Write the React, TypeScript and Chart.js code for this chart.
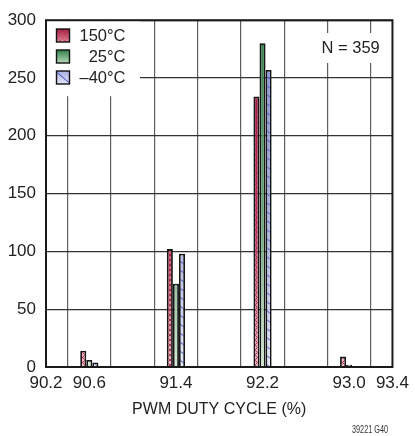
import React, { useEffect, useRef } from 'react';
import { Chart, registerables } from 'chart.js';

Chart.register(...registerables);

// ---------------- data ----------------
const bins = [90.6, 91.4, 92.2, 93.0];
const counts150 = [14, 102, 234, 9];
const counts25 = [6, 72, 280, 2];
const countsM40 = [4, 98, 257, 0];
const seriesNames = ['150°C', '25°C', '–40°C'];
const xGridValues = [90.2, 90.6, 91.0, 91.4, 91.8, 92.2, 92.6, 93.0, 93.4];
const xTickLabels = ['90.2', '90.6', '', '91.4', '', '92.2', '', '93.0', '93.4'];
const yMin = 0;
const yMax = 300;
const yStep = 50;
const xTitle = 'PWM DUTY CYCLE (%)';
const sampleNote = 'N = 359';
const figureId = '39221 G40';

// ---------------- layout / style ----------------
const W = 415;
const H = 436;
const FONT = '"Liberation Sans", Arial, sans-serif';

type Kind = 'red' | 'green' | 'blue';

const gradStops: Record<Kind, string[]> = {
  red: ['#860c2c', '#c04664', '#f0b8c3'],
  green: ['#2b7944', '#6fa87c', '#d3e9d3'],
  blue: ['#7f88cf', '#aeb4e2', '#e7e9f8'],
};

function makeFill(ctx: CanvasRenderingContext2D, kind: Kind, top: number, bottom: number) {
  const c = document.createElement('canvas');
  const w = kind === 'blue' ? 9 : kind === 'red' ? 5 : 4;
  c.width = w;
  c.height = H;
  const g = c.getContext('2d')!;
  const grad = g.createLinearGradient(0, top, 0, bottom);
  grad.addColorStop(0, gradStops[kind][0]);
  grad.addColorStop(0.6, gradStops[kind][1]);
  grad.addColorStop(1, gradStops[kind][2]);
  g.fillStyle = grad;
  g.fillRect(0, 0, w, H);
  if (kind === 'red') {
    g.strokeStyle = 'rgba(160,15,50,0.85)';
    g.lineWidth = 0.9;
    g.beginPath();
    for (let y = -w; y < H + w; y += w) {
      g.moveTo(0, y);
      g.lineTo(w, y + w);
      g.moveTo(w, y);
      g.lineTo(0, y + w);
    }
    g.stroke();
  } else if (kind === 'blue') {
    g.strokeStyle = '#3249c2';
    g.lineWidth = 1;
    g.beginPath();
    for (let y = -w; y < H + w; y += w) {
      g.moveTo(0, y);
      g.lineTo(w, y + w * 0.8);
    }
    g.stroke();
  }
  return ctx.createPattern(c, 'repeat')!;
}

function swatch(ctx: CanvasRenderingContext2D, kind: Kind, x: number, y: number, s: number) {
  const grad = ctx.createLinearGradient(0, y, 0, y + s);
  const stops: Record<Kind, [string, string]> = {
    red: ['#9b1a3c', '#e3909f'],
    green: ['#2f7d48', '#b9dcbc'],
    blue: ['#a9aee0', '#e4e6f7'],
  };
  grad.addColorStop(0, stops[kind][0]);
  grad.addColorStop(1, stops[kind][1]);
  ctx.fillStyle = grad;
  ctx.fillRect(x, y, s, s);
  ctx.save();
  ctx.beginPath();
  ctx.rect(x, y, s, s);
  ctx.clip();
  if (kind === 'red') {
    ctx.strokeStyle = 'rgba(200,60,90,0.7)';
    ctx.lineWidth = 0.8;
    ctx.beginPath();
    for (let k = -s; k < s * 2; k += 5) {
      ctx.moveTo(x + k, y);
      ctx.lineTo(x + k + s, y + s);
      ctx.moveTo(x + k + s, y);
      ctx.lineTo(x + k, y + s);
    }
    ctx.stroke();
  } else if (kind === 'blue') {
    ctx.strokeStyle = '#3249c2';
    ctx.lineWidth = 1;
    ctx.beginPath();
    ctx.moveTo(x, y + 1);
    ctx.lineTo(x + s, y + s - 1);
    ctx.stroke();
  }
  ctx.restore();
  ctx.strokeStyle = '#111';
  ctx.lineWidth = 1.4;
  ctx.strokeRect(x, y, s, s);
}

const overlayPlugin = {
  id: 'overlay',
  afterDraw(chart: any) {
    const ctx: CanvasRenderingContext2D = chart.ctx;
    const a = chart.chartArea;
    ctx.save();
    // legend box
    ctx.fillStyle = '#fff';
    ctx.fillRect(a.left + 1, a.top + 1, 93, 75);
    // N box
    ctx.fillRect(316, 33, 70, 30);
    // frame
    ctx.strokeStyle = '#1a1a1a';
    ctx.lineWidth = 2;
    ctx.strokeRect(a.left, a.top, a.right - a.left, a.bottom - a.top);

    const kinds: Kind[] = ['red', 'green', 'blue'];
    ctx.font = '16.5px ' + FONT;
    ctx.textBaseline = 'middle';
    for (let i = 0; i < 3; i++) {
      const yy = 29 + i * 21;
      swatch(ctx, kinds[i], 56.5, yy, 13);
      ctx.fillStyle = '#222';
      ctx.textAlign = 'right';
      ctx.fillText(seriesNames[i], 125.5, yy + 7.5);
    }
    ctx.textAlign = 'left';
    ctx.fillText(sampleNote, 321.5, 48);

    // figure id
    ctx.font = '11px ' + FONT;
    const tw = ctx.measureText(figureId).width;
    ctx.translate(388, 429.5);
    ctx.scale(36 / tw, 1);
    ctx.textAlign = 'right';
    ctx.fillStyle = '#333';
    ctx.fillText(figureId, 0, 0);
    ctx.restore();
  },
};

export default function App() {
  const ref = useRef<HTMLCanvasElement>(null);

  useEffect(() => {
    const canvas = ref.current!;
    const ctx = canvas.getContext('2d')!;
    Chart.defaults.font.family = FONT;
    const top = 15;
    const bottom = 367;
    const fills = {
      red: makeFill(ctx, 'red', top, bottom),
      green: makeFill(ctx, 'green', top, bottom),
      blue: makeFill(ctx, 'blue', top, bottom),
    };
    const mk = (label: string, vals: number[], kind: Kind) => ({
      label,
      data: bins.map((x, i) => ({ x, y: vals[i] })),
      backgroundColor: fills[kind],
      borderColor: '#151515',
      borderWidth: 1.8,
      categoryPercentage: 0.42,
      barPercentage: 1,
    });

    const chart = new Chart(ctx, {
      type: 'bar',
      data: {
        datasets: [
          mk(seriesNames[0], counts150, 'red'),
          mk(seriesNames[1], counts25, 'green'),
          mk(seriesNames[2], countsM40, 'blue'),
        ] as any,
      },
      options: {
        responsive: false,
        animation: false,
        devicePixelRatio: 1,
        layout: { padding: { top: 15, right: 17, left: 0, bottom: 0 } },
        plugins: {
          legend: { display: false },
          tooltip: { enabled: false },
        },
        scales: {
          x: {
            type: 'linear',
            min: xGridValues[0],
            max: xGridValues[xGridValues.length - 1],
            offset: false,
            afterBuildTicks: (scale: any) => {
              scale.ticks = xGridValues.map((v) => ({ value: v }));
            },
            afterFit: (scale: any) => {
              scale.height = H - bottom;
            },
            ticks: {
              autoSkip: false,
              maxRotation: 0,
              padding: 6,
              color: '#222',
              font: { size: 17 },
              callback: (_v: any, i: number) => xTickLabels[i],
            },
            grid: { color: '#5e5e5e', lineWidth: 1.2, drawTicks: false },
            border: { display: false },
            title: {
              display: true,
              text: xTitle,
              color: '#222',
              font: { size: 16 },
              padding: { top: 0, bottom: 17 },
            },
          },
          y: {
            min: yMin,
            max: yMax,
            afterFit: (scale: any) => {
              scale.width = 46;
            },
            ticks: {
              stepSize: yStep,
              padding: 10,
              color: '#222',
              font: { size: 17 },
            },
            grid: { color: '#333', lineWidth: 1.2, drawTicks: false },
            border: { display: false },
          },
        },
      } as any,
      plugins: [overlayPlugin],
    });
    return () => chart.destroy();
  }, []);

  return (
    <div style={{ position: 'fixed', left: 0, top: 0, width: W, height: H, background: '#fff' }}>
      <canvas ref={ref} width={W} height={H} style={{ width: W, height: H, display: 'block' }} />
    </div>
  );
}
